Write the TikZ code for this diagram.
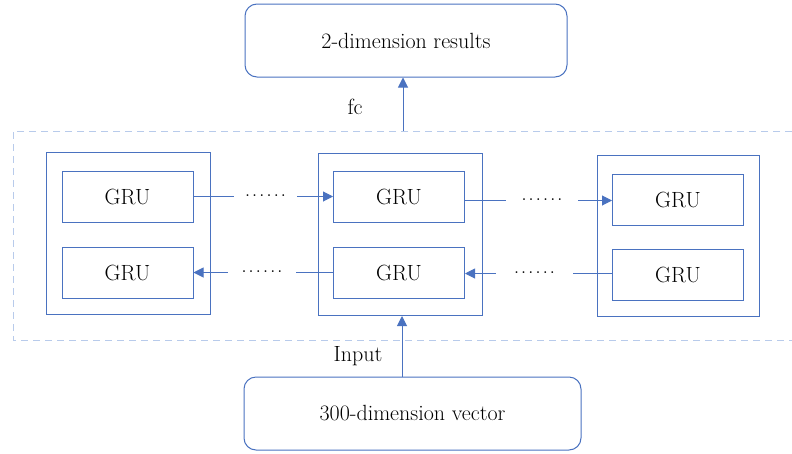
\documentclass[tikz,border=0pt]{standalone}
\usetikzlibrary{arrows.meta}
\definecolor{grublue}{HTML}{4A72C0}
\definecolor{dashblue}{HTML}{B8CBEB}
\newcommand*\gapdots{.\kern1.7pt.\kern1.7pt.\kern1.7pt.\kern1.7pt.\kern1.7pt.}
\begin{document}
\begin{tikzpicture}[x=1pt,y=1pt,
  font=\fontsize{22}{26}\selectfont,text=black,
  box/.style={draw=grublue,line width=1pt,rounded corners=12pt,minimum width=322pt,minimum height=73pt},
  cell/.style={draw=grublue,line width=1pt,minimum width=164pt,minimum height=162pt},
  gru/.style={draw=grublue,line width=1pt,minimum width=131pt,minimum height=51pt},
  gap/.style={inner sep=0pt,text height=0pt,text depth=0pt},
  link/.style={grublue,line width=1pt},
  arr/.style={link,-{Triangle[length=10pt,width=10pt]}}]
\useasboundingbox (0,0) rectangle (792,-453);
% Riquadro tratteggiato
\draw[dashblue,line width=1pt,dash pattern=on 7pt off 5pt](792,-131)-|(13,-340)--(792,-340);
% Nodi risultato e vettore
\draw(406,-40.5)node[box](node res){2-dimension results}
		 (412.5,-413.5)node[box,minimum width=337pt](node vec){300-dimension vector};
% Celle esterne
\draw(128.5,-233)node[cell](cell left){}
		 (400,-234.5)node[cell](cell mid){}
		 (678,-235.5)node[cell,minimum width=162pt,minimum height=161pt](cell right){};
% Unita GRU
\draw(127.5,-196.5)node[gru](gru lt){GRU}
		 (127.5,-272.5)node[gru](gru lb){GRU}
		 (399,-196.5)node[gru](gru mt){GRU}
		 (399,-272.5)node[gru](gru mb){GRU}
		 (678,-199.5)node[gru](gru rt){GRU}
		 (678,-274.5)node[gru](gru rb){GRU};
% Puntini
\draw(265.5,-196.5)node[gap,minimum width=63pt](dots lt){\gapdots}
		 (542,-200.5)node[gap,minimum width=72pt](dots rt){\gapdots}
		 (262,-272.5)node[gap,minimum width=68pt](dots lb){\gapdots}
		 (534.5,-273.5)node[gap,minimum width=77pt](dots rb){\gapdots};
% Frecce in avanti
\draw[link](gru lt.east)--(dots lt.west);
\draw[arr](dots lt.east)--(gru mt.west);
\draw[link](gru mt.east |- dots rt.west)--(dots rt.west);
\draw[arr](dots rt.east)--(gru rt.west |- dots rt.east);
% Frecce all'indietro
\draw[link](gru mb.west)--(dots lb.east);
\draw[arr](dots lb.west)--(gru lb.east);
\draw[link](gru rb.west |- dots rb.east)--(dots rb.east);
\draw[arr](dots rb.west)--(gru mb.east |- dots rb.west);
% Freccia fc
\coordinate(fc foot) at (403,-131);
\draw[arr](fc foot)--(fc foot |- node res.south);
\draw(355,-107)node(lab fc){fc};
% Freccia input
\coordinate(in foot) at (402,-377);
\draw[arr](in foot)--(in foot |- cell mid.south);
\draw(358,-356)node(lab in){Input};
\end{tikzpicture}
\end{document}
